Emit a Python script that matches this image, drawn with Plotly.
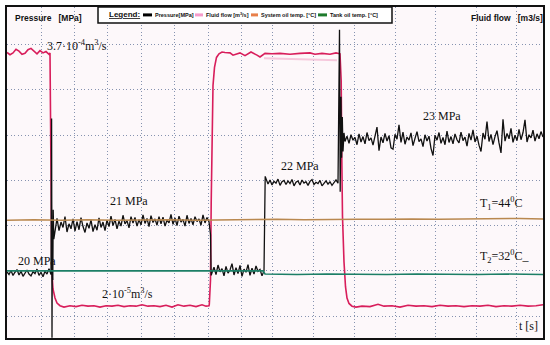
import plotly.graph_objects as go

# ---------------------------------------------------------------
# Screen units: t = oscilloscope time base (screen samples),
# v = vertical screen units (10 units per vertical division)
# ---------------------------------------------------------------
T_RANGE = [0, 536]
V_RANGE = [-4.84, 68.35]
grid_t = [1, 34.7, 67, 100.3, 134, 167.3, 201.3, 234, 265.5, 306.3, 347, 388, 428.7, 469.7, 509.7]
grid_v = [0, 10, 20, 30, 40, 50, 60]
left_markers = [63.1, 47.3, 29.0]
right_markers = [61.8, 48.1, 28.8, 11.2]

# ---------------- Pressure [MPa] trace (black) -----------------
p_seg0 = [9.8, 9.2, 10.1, 9.0, 9.7, 10.3, 9.1, 9.9, 8.8, 9.6, 10.2, 9.3, 8.9, 9.8, 9.4,
          10.4, 9.0, 9.7, 8.7, 9.9, 9.3, 10.5, 9.2]
p_jump1_t = [44.6, 45.0, 45.4, 45.8, 46.2, 46.8]
p_jump1_v = [43.7, -4.8, 20.0, 8.0, 23.5, 17.0]
p_seg1 = [19.0, 21.6, 18.9, 20.8, 19.6, 22.0, 18.6, 20.4, 19.3, 21.5, 18.8, 20.9, 19.1, 21.8,
          19.8, 18.5, 20.6, 19.4, 21.3, 18.7, 20.2, 19.0, 21.7, 19.6, 20.8, 18.9, 21.2, 19.8,
          22.1, 20.0, 21.4, 19.3, 21.0, 19.9, 22.3, 20.4, 21.1, 19.5, 22.0, 20.6, 21.8, 19.9,
          21.3, 20.2, 22.4, 20.5, 21.6, 19.8, 22.2, 20.7, 21.5, 20.1, 22.0, 20.4, 21.9, 19.9,
          21.2, 20.6, 22.5, 20.3, 21.7, 20.0, 22.1, 20.8, 21.4, 19.9, 22.3, 20.5, 21.6, 20.2,
          22.0, 20.9, 21.5, 20.1, 22.4, 20.6, 21.8, 20.9]
p_jump2_t = [203.5, 204.2]
p_jump2_v = [18.0, 9.0]
p_seg2 = [9.6, 10.8, 9.2, 11.3, 9.8, 10.5, 8.9, 11.0, 9.5, 10.2, 11.6, 9.1, 10.7, 9.4, 11.2,
          8.8, 10.4, 9.7, 11.4, 9.0, 10.6, 9.3, 11.1, 9.9, 10.3, 8.9, 10.0]
p_jump3_t = [257.6, 258.2]
p_jump3_v = [30.6, 30.9]
p_seg3 = [30.4, 29.2, 30.1, 29.0, 29.8, 29.4, 30.3, 28.9, 29.7, 30.0, 29.1, 29.9, 29.3, 30.2,
          28.8, 29.6, 29.9, 29.0, 30.1, 29.4, 29.7, 28.9, 29.8, 30.2, 29.1, 29.6, 29.3, 30.0,
          28.8, 29.5, 29.9, 29.2, 29.7, 28.9, 29.5, 30.1, 29.4]
p_jump4_t = [332.5, 333.2, 334.0, 334.6, 335.3, 336.0, 337.0]
p_jump4_v = [63.3, 27.5, 48.5, 35.0, 44.0, 36.4, 40.5]
p_seg4 = [38.6, 39.8, 38.2, 40.1, 38.9, 39.5, 37.9, 40.3, 38.5, 39.7, 38.1, 40.6, 38.8, 39.4,
          37.8, 40.0, 41.8, 36.6, 39.6, 38.3, 40.4, 38.7, 39.9, 37.2, 36.9, 40.2, 39.1, 42.3,
          38.4, 40.7, 38.0, 39.6, 38.9, 40.5, 37.7, 39.3, 40.8, 38.6, 39.2, 37.5, 40.1, 38.7,
          39.8, 37.1, 35.5, 40.0, 38.9, 40.6, 38.2, 39.5, 37.9, 40.9, 38.4, 39.7, 38.1, 40.3,
          39.0, 38.3, 40.7, 38.8, 39.6, 37.6, 40.4, 38.9, 41.2, 38.5, 39.8, 37.8, 36.4, 40.5,
          39.1, 43.0, 38.6, 40.2, 37.9, 39.7, 41.0, 38.3, 36.1, 43.5, 38.7, 40.4, 39.2, 41.5,
          38.4, 40.0, 38.8, 41.3, 39.0, 40.6, 43.4, 38.5, 40.1, 39.4, 41.1, 38.7, 40.3, 39.2,
          40.8, 39.6]

# ---------------- Fluid flow [m3/s] trace (crimson) ------------
flow_t = [0, 3, 6, 9, 12, 15, 18, 21, 24, 27, 30, 33, 36, 39, 42, 43,
          43.7, 44.2, 44.8, 46, 48, 50, 53, 57,
          63, 69, 75, 81, 87, 93, 99, 105, 111, 117, 123, 129, 135, 141, 147, 153, 159, 165,
          171, 177, 183, 189, 195, 199, 202,
          202.3, 203.5, 204.2, 205, 206, 207.5, 209.5, 212, 215,
          218, 223, 226, 233, 238, 244, 250, 253, 258, 265, 273, 283, 293, 303, 308, 315, 323,
          329, 333,
          334.2, 334.8, 335.5, 337, 338.5, 340, 342, 345, 349,
          355, 363, 371, 377, 385, 393, 401, 409, 417, 425, 433, 441, 449, 457, 465, 473, 481,
          489, 497, 505, 513, 521, 529, 536]
flow_v = [58.3, 57.8, 58.2, 59.0, 58.6, 57.9, 58.1, 58.9, 59.2, 58.5, 58.0, 58.7, 58.2, 58.5, 57.9, 58.2,
          40.0, 20.0, 10.0, 6.0, 4.0, 2.9, 2.3, 2.0,
          2.3, 2.1, 2.4, 2.2, 2.3, 2.0, 2.3, 2.2, 2.4, 2.1, 2.3, 2.2, 2.5, 2.2, 2.3, 2.1, 2.4, 2.0,
          2.5, 2.2, 2.4, 2.1, 2.5, 2.2, 2.3,
          2.6, 8.0, 25.0, 42.0, 51.0, 55.0, 57.2, 58.0, 58.4,
          58.3, 58.2, 57.7, 58.2, 57.6, 58.4, 57.7, 57.3, 58.1, 58.0, 58.1, 57.9, 58.1, 58.2, 57.9,
          58.1, 57.9, 58.2, 58.0,
          52.0, 35.0, 22.0, 12.0, 6.5, 4.0, 2.8, 2.2, 2.0,
          2.2, 2.1, 2.6, 2.2, 2.3, 2.0, 2.4, 2.2, 2.3, 2.1, 2.4, 2.2, 2.3, 2.1, 2.3, 2.2, 2.4,
          2.1, 2.3, 2.2, 2.4, 2.2, 2.3, 2.5]
flow_faint_t = [257, 280, 300, 330]
flow_faint_v = [57.0, 56.9, 56.8, 56.6]

# ---------------- Oil temperatures ------------------------------
sys_temp_t = [0, 27, 54, 81, 108, 135, 162, 189, 216, 243, 270, 297, 324, 351, 378, 405, 432,
              459, 486, 513, 536]
sys_temp_v = [21.2, 21.3, 21.2, 21.3, 21.2, 21.3, 21.3, 21.2, 21.3, 21.3, 21.4, 21.3, 21.4,
              21.4, 21.4, 21.5, 21.4, 21.5, 21.5, 21.6, 21.5]
tank_temp_t = [0, 30, 60, 90, 120, 150, 180, 210, 240, 256, 258, 290, 320, 350, 380, 410, 440,
               470, 500, 536]
tank_temp_v = [10.0, 10.0, 10.1, 10.0, 10.0, 10.1, 10.0, 10.0, 10.1, 10.0, 9.3, 9.2, 9.3, 9.2,
               9.2, 9.3, 9.2, 9.2, 9.3, 9.2]

# ---------------- Text labels -----------------------------------
labels = [
    ("3.7·10<sup>-4</sup>m<sup>3</sup>/s", 38, 59.9),
    ("21 MPa", 101, 25.5),
    ("20 MPa", 9, 12.1),
    ("2·10<sup>-5</sup>m<sup>3</sup>/s", 93, 5.0),
    ("22 MPa", 272, 33.2),
    ("23 MPa", 414, 44.2),
    ("T<sub>1</sub>=44<sup>0</sup>C", 471, 24.8),
    ("T<sub>2</sub>=32<sup>0</sup>C_", 471, 13.2),
    ("t [s]", 510, -2.2),
]
legend_names = ["Pressure[MPa]", "Fluid flow [m<sup>3</sup>/s]", "System oil temp. [°C]",
                "Tank oil temp. [°C]"]
legend_colors = ["#000000", "#f59bcb", "#e8804a", "#1e7a2c"]
legend_swatch_t = [[136, 145], [188, 196], [244, 251], [311, 320]]
legend_text_t = [146, 197, 252, 321]


def sampled(t0, step, values):
    return [t0 + step * i for i in range(len(values))]


pressure_t = (sampled(0, 2, p_seg0) + p_jump1_t + sampled(48, 2, p_seg1) + p_jump2_t +
              sampled(205, 2, p_seg2) + p_jump3_t + sampled(259, 2, p_seg3) + p_jump4_t +
              sampled(338, 2, p_seg4))
pressure_v = (p_seg0 + p_jump1_v + p_seg1 + p_jump2_v + p_seg2 + p_jump3_v + p_seg3 +
              p_jump4_v + p_seg4)

fig = go.Figure()
fig.add_trace(go.Scatter(x=flow_faint_t, y=flow_faint_v, mode="lines", showlegend=False,
                         line=dict(color="#f6c8dc", width=2), hoverinfo="skip"))
fig.add_trace(go.Scatter(x=flow_t, y=flow_v, mode="lines", name="Fluid flow [m³/s]",
                         line=dict(color="#d81e5b", width=1.6)))
fig.add_trace(go.Scatter(x=pressure_t, y=pressure_v, mode="lines", name="Pressure [MPa]",
                         line=dict(color="#111111", width=1.3)))
fig.add_trace(go.Scatter(x=sys_temp_t, y=sys_temp_v, mode="lines", name="System oil temp. [°C]",
                         line=dict(color="#b9884f", width=1.5)))
fig.add_trace(go.Scatter(x=tank_temp_t, y=tank_temp_v, mode="lines", name="Tank oil temp. [°C]",
                         line=dict(color="#1c7f66", width=1.6)))

serif = "Liberation Serif, Times New Roman, serif"
sans = "Liberation Sans, Arial, sans-serif"
annotations = []
for txt, tx, ty in labels:
    annotations.append(dict(x=tx, y=ty, xref="x", yref="y", text=txt, showarrow=False,
                            xanchor="left", yanchor="middle",
                            font=dict(family=serif, size=12, color="#111111")))
annotations.append(dict(x=5.7, y=65.9, xref="x", yref="y",
                        text="<b>Pressure</b>   <b>[MPa]</b>", showarrow=False,
                        xanchor="left", yanchor="middle",
                        font=dict(family=sans, size=8.5, color="#111111")))
annotations.append(dict(x=462, y=65.9, xref="x", yref="y",
                        text="<b>Fluid flow</b>   <b>[m3/s]</b>", showarrow=False,
                        xanchor="left", yanchor="middle",
                        font=dict(family=sans, size=8.5, color="#111111")))
annotations.append(dict(x=99.5, y=66.6, xref="x", yref="y", text="<b><u>Legend:</u></b>",
                        showarrow=False, xanchor="left", yanchor="middle",
                        font=dict(family=sans, size=8, color="#111111")))
shapes = [dict(type="rect", xref="x", yref="y", x0=91, x1=385, y0=64.8, y1=68.35,
               line=dict(color="#111111", width=1.5), fillcolor="white", layer="above")]
for name, col, sw, tx in zip(legend_names, legend_colors, legend_swatch_t, legend_text_t):
    shapes.append(dict(type="line", xref="x", yref="y", x0=sw[0], x1=sw[1], y0=66.6, y1=66.6,
                       line=dict(color=col, width=3), layer="above"))
    annotations.append(dict(x=tx, y=66.6, xref="x", yref="y", text="<b>" + name + "</b>",
                            showarrow=False, xanchor="left", yanchor="middle",
                            font=dict(family=sans, size=5.5, color="#111111")))

grid_style = dict(showgrid=True, gridcolor="#8693b0", gridwidth=1, griddash="1px,2.5px",
                  showticklabels=False, ticks="", zeroline=False, showline=True, mirror=True,
                  linecolor="#111111", linewidth=1.6)
marker_style = dict(overlaying="y", range=V_RANGE, tickmode="array", ticks="inside",
                    ticklen=7, tickwidth=1.5, tickcolor="#111111", showticklabels=False,
                    showgrid=False, zeroline=False, showline=False)

fig.update_layout(
    width=550, height=345, autosize=False,
    margin=dict(l=7, r=7, t=5, b=7),
    paper_bgcolor="white", plot_bgcolor="#fdf8fa",
    showlegend=False,
    xaxis=dict(range=T_RANGE, tickmode="array", tickvals=grid_t, **grid_style),
    yaxis=dict(range=V_RANGE, tickmode="array", tickvals=grid_v, **grid_style),
    yaxis2=dict(side="left", anchor="x", tickvals=left_markers, **marker_style),
    yaxis3=dict(side="right", anchor="x", tickvals=right_markers, **marker_style),
    annotations=annotations,
    shapes=shapes,
)

fig.write_html("out.html", config={"displayModeBar": False},
               post_script="document.body.style.margin='0';")
